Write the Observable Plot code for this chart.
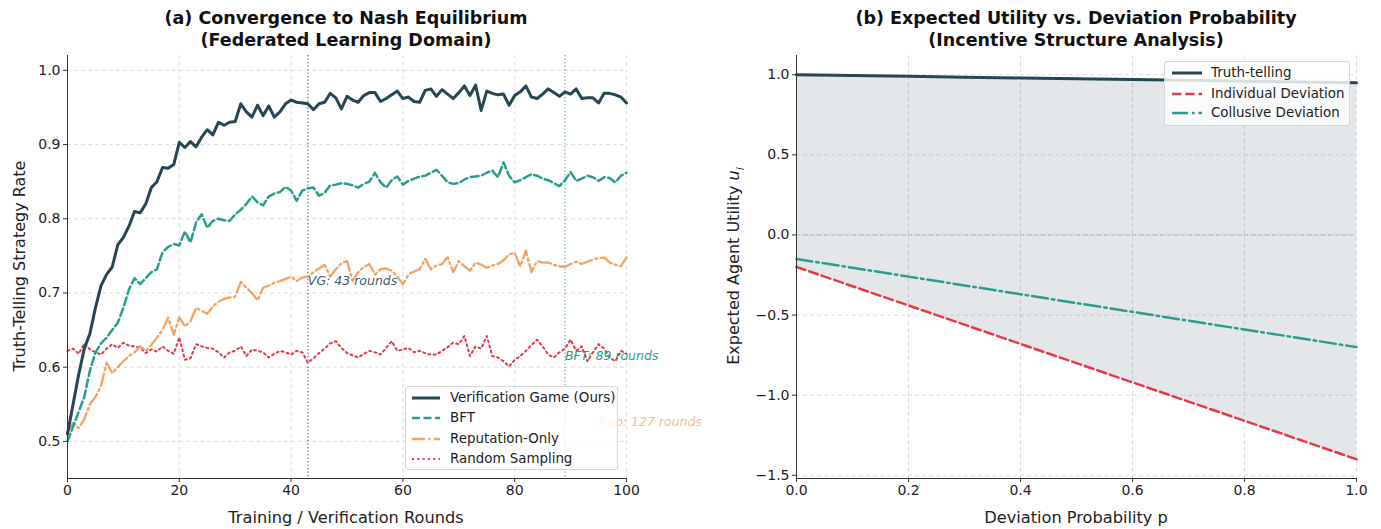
<!DOCTYPE html>
<html>
<head>
<meta charset="utf-8">
<script src="https://cdn.jsdelivr.net/npm/d3@7"></script>
<script src="https://cdn.jsdelivr.net/npm/@observablehq/plot@0.6"></script>
<style>
  body { margin: 0; background: #fff; }
  #fig { position: relative; width: 1381px; height: 529px; background: #fff; font-family: "DejaVu Sans", sans-serif; color: #222; overflow: hidden; }
  .panel { position: absolute; top: 0; }
  .title { position: absolute; font-weight: bold; font-size: 17.5px; text-align: center; line-height: 22px; white-space: nowrap; transform: translateX(-50%); color: #111; }
  .xlabel { position: absolute; font-size: 16.2px; line-height: 19px; white-space: nowrap; transform: translateX(-50%); color: #222; }
  .ylabel { position: absolute; font-size: 16px; line-height: 19px; white-space: nowrap; transform: translate(-50%, -50%) rotate(-90deg); color: #222; }
  .legend { position: absolute; background: rgba(255,255,255,0.82); border: 1px solid #d6d6d6; border-radius: 3px; box-sizing: border-box; padding: 0; }
  .legend .row { position: absolute; left: 0; display: flex; align-items: center; white-space: nowrap; color: #222; }
  .legend svg { display: block; }
</style>
</head>
<body>
<div id="fig"></div>
<script>
// ---------- Panel (a) data ----------
const rounds = d3.range(0, 101);
const vgRate = [0.51,0.55,0.59,0.625,0.645,0.68,0.71,0.725,0.735,0.765,0.775,0.79,0.81,0.808,0.82,0.842,0.85,0.869,0.868,0.873,
  0.903,0.896,0.904,0.897,0.910,0.920,0.913,0.930,0.926,0.930,0.931,0.955,0.944,0.937,0.953,0.939,0.952,0.937,0.944,0.955,
  0.960,0.957,0.956,0.955,0.947,0.955,0.957,0.969,0.963,0.948,0.965,0.960,0.957,0.966,0.970,0.970,0.958,0.962,0.967,0.972,
  0.962,0.964,0.958,0.957,0.973,0.975,0.965,0.974,0.968,0.962,0.970,0.979,0.966,0.980,0.946,0.972,0.969,0.967,0.968,0.953,
  0.966,0.971,0.979,0.964,0.962,0.968,0.975,0.970,0.965,0.971,0.968,0.975,0.962,0.963,0.963,0.956,0.969,0.969,0.967,0.964,0.956];
const bftRate = [0.50,0.52,0.54,0.56,0.595,0.62,0.632,0.64,0.65,0.66,0.68,0.705,0.72,0.712,0.72,0.728,0.732,0.755,0.762,0.766,
  0.764,0.783,0.768,0.795,0.806,0.788,0.797,0.800,0.798,0.797,0.806,0.812,0.820,0.830,0.822,0.818,0.830,0.834,0.836,0.843,
  0.838,0.824,0.838,0.841,0.842,0.831,0.835,0.845,0.846,0.848,0.847,0.845,0.842,0.847,0.850,0.862,0.849,0.842,0.852,0.857,
  0.846,0.851,0.854,0.857,0.858,0.862,0.866,0.858,0.849,0.847,0.848,0.853,0.856,0.857,0.858,0.862,0.865,0.856,0.876,0.858,
  0.849,0.852,0.856,0.860,0.858,0.854,0.852,0.848,0.844,0.852,0.863,0.851,0.854,0.858,0.856,0.851,0.856,0.855,0.849,0.858,0.862];
const repRate = [0.513,0.525,0.518,0.530,0.550,0.560,0.575,0.606,0.592,0.600,0.608,0.615,0.620,0.628,0.622,0.630,0.640,0.650,0.667,0.644,
  0.667,0.655,0.662,0.680,0.676,0.672,0.682,0.688,0.692,0.694,0.695,0.715,0.707,0.700,0.690,0.707,0.710,0.714,0.716,0.719,
  0.722,0.716,0.721,0.722,0.728,0.733,0.738,0.722,0.732,0.740,0.743,0.716,0.728,0.735,0.739,0.725,0.732,0.733,0.730,0.722,
  0.712,0.725,0.729,0.732,0.746,0.732,0.737,0.739,0.748,0.728,0.743,0.736,0.730,0.741,0.738,0.734,0.737,0.739,0.744,0.752,
  0.754,0.736,0.757,0.728,0.743,0.741,0.741,0.738,0.736,0.735,0.739,0.742,0.739,0.742,0.745,0.747,0.748,0.741,0.738,0.736,0.748];
const randRate = [0.622,0.625,0.618,0.632,0.624,0.620,0.617,0.625,0.631,0.626,0.633,0.629,0.628,0.626,0.619,0.624,0.621,0.628,0.622,0.618,
  0.640,0.610,0.612,0.631,0.628,0.626,0.625,0.620,0.613,0.620,0.622,0.628,0.615,0.624,0.622,0.620,0.613,0.618,0.622,0.620,
  0.617,0.622,0.620,0.606,0.612,0.619,0.625,0.632,0.635,0.626,0.619,0.616,0.613,0.618,0.622,0.620,0.617,0.626,0.635,0.622,
  0.624,0.626,0.620,0.622,0.619,0.617,0.617,0.622,0.627,0.633,0.631,0.642,0.615,0.628,0.625,0.642,0.615,0.613,0.608,0.601,
  0.610,0.615,0.622,0.630,0.637,0.628,0.617,0.613,0.620,0.625,0.637,0.622,0.628,0.608,0.620,0.631,0.625,0.613,0.608,0.622,0.618];
const seriesNames = ["Verification Game (Ours)", "BFT", "Reputation-Only", "Random Sampling"];
const convergenceRounds = [43, 89, 127];
const convergenceLabels = ["VG: 43 rounds", "BFT: 89 rounds", "Rep: 127 rounds"];
const xTicksA = [0, 20, 40, 60, 80, 100];
const yTicksA = [0.5, 0.6, 0.7, 0.8, 0.9, 1.0];

// ---------- Panel (b) data ----------
const devProb = [0, 0.1, 0.2, 0.3, 0.4, 0.5, 0.6, 0.7, 0.8, 0.9, 1.0];
const truthUtil = [1.000, 0.995, 0.990, 0.985, 0.980, 0.975, 0.970, 0.965, 0.960, 0.955, 0.950];
const indivUtil = [-0.20, -0.32, -0.44, -0.56, -0.68, -0.80, -0.92, -1.04, -1.16, -1.28, -1.40];
const collUtil = [-0.150, -0.205, -0.260, -0.315, -0.370, -0.425, -0.480, -0.535, -0.590, -0.645, -0.700];
const utilNames = ["Truth-telling", "Individual Deviation", "Collusive Deviation"];
const xTicksB = [0, 0.2, 0.4, 0.6, 0.8, 1.0];
const yTicksB = [-1.5, -1.0, -0.5, 0.0, 0.5, 1.0];

// ---------- styles ----------
const C = { dark: "#264653", teal: "#2a9d8f", orange: "#f4a261", red: "#e63946" };
const dashA = { vg: null, bft: "8,3.5", rep: "13,3.4,2.2,3.4", rand: "2,3.3" };

const fig = document.getElementById("fig");
const fmt1 = d3.format(".1f");

const tableA = rounds.map((r, i) => ({ r, vg: vgRate[i], bft: bftRate[i], rep: repRate[i], rand: randRate[i] }));
const tableB = devProb.map((p, i) => ({ p, truth: truthUtil[i], ind: indivUtil[i], coll: collUtil[i] }));

const gridStyle = { stroke: "#d0d0d0", strokeOpacity: 0.9, strokeDasharray: "4,3", strokeWidth: 0.8 };
const commonStyle = { fontFamily: "DejaVu Sans, sans-serif", fontSize: "14px", overflow: "visible", background: "transparent", color: "#222" };
const TICK_FS = 14;

// Panel (a)
const plotA = Plot.plot({
  width: 690, height: 529,
  marginLeft: 67, marginRight: 64, marginTop: 55, marginBottom: 51,
  style: commonStyle,
  x: { domain: [0, 100] },
  y: { domain: [0.45, 1.02] },
  marks: [
    Plot.gridX(xTicksA, gridStyle),
    Plot.gridY(yTicksA, gridStyle),
    Plot.ruleX([convergenceRounds[0]], { stroke: C.dark, strokeOpacity: 0.75, strokeWidth: 1.3, strokeDasharray: "1.3,2.2" }),
    Plot.ruleX([convergenceRounds[1]], { stroke: C.teal, strokeOpacity: 0.75, strokeWidth: 1.3, strokeDasharray: "1.3,2.2" }),
    Plot.lineY(tableA, { x: "r", y: "rand", stroke: C.red, strokeWidth: 2, strokeDasharray: dashA.rand }),
    Plot.lineY(tableA, { x: "r", y: "rep", stroke: C.orange, strokeWidth: 2.3, strokeDasharray: dashA.rep }),
    Plot.lineY(tableA, { x: "r", y: "bft", stroke: C.teal, strokeWidth: 2.5, strokeDasharray: dashA.bft }),
    Plot.lineY(tableA, { x: "r", y: "vg", stroke: C.dark, strokeWidth: 3 }),
    Plot.text([convergenceLabels[0]], { x: convergenceRounds[0], y: 0.716, text: d => d, textAnchor: "start", fill: C.dark, fillOpacity: 0.9, fontStyle: "italic", fontSize: 12.5 }),
    Plot.text([convergenceLabels[1]], { x: convergenceRounds[1], y: 0.615, text: d => d, textAnchor: "start", fill: C.teal, fontStyle: "italic", fontSize: 12.5 }),
    Plot.text([convergenceLabels[2]], { x: 95, y: 0.526, text: d => d, textAnchor: "start", fill: C.orange, fillOpacity: 0.75, fontStyle: "italic", fontSize: 12.5 }),
    Plot.ruleX([0], { stroke: "#333", strokeWidth: 1 }),
    Plot.ruleY([0.45], { stroke: "#333", strokeWidth: 1 }),
    Plot.axisX(xTicksA, { tickSize: 4, tickPadding: 3, label: null, fontSize: TICK_FS, stroke: "#333", fill: "#222" }),
    Plot.axisY(yTicksA, { tickSize: 4, tickPadding: 3, label: null, fontSize: TICK_FS, tickFormat: fmt1, stroke: "#333", fill: "#222" })
  ]
});

// Panel (b)
const plotB = Plot.plot({
  width: 691, height: 529,
  marginLeft: 106, marginRight: 25, marginTop: 55, marginBottom: 51,
  style: commonStyle,
  x: { domain: [0, 1] },
  y: { domain: [-1.52, 1.12] },
  marks: [
    Plot.gridX(xTicksB, gridStyle),
    Plot.gridY(yTicksB, gridStyle),
    Plot.areaY(tableB, { x: "p", y1: "ind", y2: "truth", fill: C.dark, fillOpacity: 0.13 }),
    Plot.ruleY([0], { stroke: "#999", strokeWidth: 1, strokeDasharray: "1,1.8" }),
    Plot.lineY(tableB, { x: "p", y: "coll", stroke: C.teal, strokeWidth: 2.5, strokeDasharray: "16,4,2.5,4" }),
    Plot.lineY(tableB, { x: "p", y: "ind", stroke: C.red, strokeWidth: 2.5, strokeDasharray: "9.25,4" }),
    Plot.lineY(tableB, { x: "p", y: "truth", stroke: C.dark, strokeWidth: 3 }),
    Plot.ruleX([0], { stroke: "#333", strokeWidth: 1 }),
    Plot.ruleY([-1.52], { stroke: "#333", strokeWidth: 1 }),
    Plot.axisX(xTicksB, { tickSize: 4, tickPadding: 3, label: null, fontSize: TICK_FS, tickFormat: fmt1, stroke: "#333", fill: "#222" }),
    Plot.axisY(yTicksB, { tickSize: 4, tickPadding: 3, label: null, fontSize: TICK_FS, tickFormat: fmt1, stroke: "#333", fill: "#222" })
  ]
});

function place(el, left) {
  const d = document.createElement("div");
  d.className = "panel";
  d.style.left = left + "px";
  d.appendChild(el);
  fig.appendChild(d);
}
place(plotA, 0);
place(plotB, 690);

function addDiv(cls, html, css) {
  const d = document.createElement("div");
  d.className = cls;
  d.innerHTML = html;
  Object.assign(d.style, css);
  fig.appendChild(d);
  return d;
}

// Titles
addDiv("title", "(a) Convergence to Nash Equilibrium<br>(Federated Learning Domain)", { left: "346px", top: "7px" });
addDiv("title", "(b) Expected Utility vs. Deviation Probability<br>(Incentive Structure Analysis)", { left: "1076px", top: "7px" });

// Axis labels
addDiv("xlabel", "Training / Verification Rounds", { left: "346px", top: "508px" });
addDiv("xlabel", "Deviation Probability p", { left: "1076px", top: "508px" });
addDiv("ylabel", "Truth-Telling Strategy Rate", { left: "19px", top: "266px" });
addDiv("ylabel", "Expected Agent Utility <i>u</i><sub style=\"font-size:11px;font-style:italic\">i</sub>", { left: "737px", top: "266px" });

// Legends
function legend(box, entries, rowTops, sample) {
  const lg = addDiv("legend", "", { left: box.x + "px", top: box.y + "px", width: box.w + "px", height: box.h + "px" });
  entries.forEach((e, i) => {
    const row = document.createElement("div");
    row.className = "row";
    row.style.top = rowTops[i] + "px";
    row.style.left = sample.left + "px";
    row.style.fontSize = sample.font + "px";
    const dash = e.dash ? `stroke-dasharray="${e.dash}"` : "";
    row.innerHTML = `<svg width="${sample.w}" height="10"><line x1="0" y1="5" x2="${sample.w}" y2="5" stroke="${e.color}" stroke-width="${e.width}" ${dash}/></svg><span style="margin-left:${sample.gap}px">${e.name}</span>`;
    lg.appendChild(row);
  });
}
legend({ x: 405, y: 386, w: 213, h: 84 },
  [
    { name: seriesNames[0], color: C.dark, width: 3 },
    { name: seriesNames[1], color: C.teal, width: 2.5, dash: "8,3.5" },
    { name: seriesNames[2], color: C.orange, width: 2.3, dash: "13,3.4,2.2,3.4" },
    { name: seriesNames[3], color: C.red, width: 2, dash: dashA.rand }
  ],
  [3, 23, 44, 64], { left: 6, w: 28, gap: 10, font: 13.4 });

legend({ x: 1164, y: 61, w: 186, h: 65 },
  [
    { name: utilNames[0], color: C.dark, width: 3 },
    { name: utilNames[1], color: C.red, width: 2.5, dash: "9.25,4" },
    { name: utilNames[2], color: C.teal, width: 2.5, dash: "16,4,2.5,4" }
  ],
  [3, 24, 43], { left: 7, w: 30, gap: 9, font: 13.4 });
</script>
</body>
</html>
